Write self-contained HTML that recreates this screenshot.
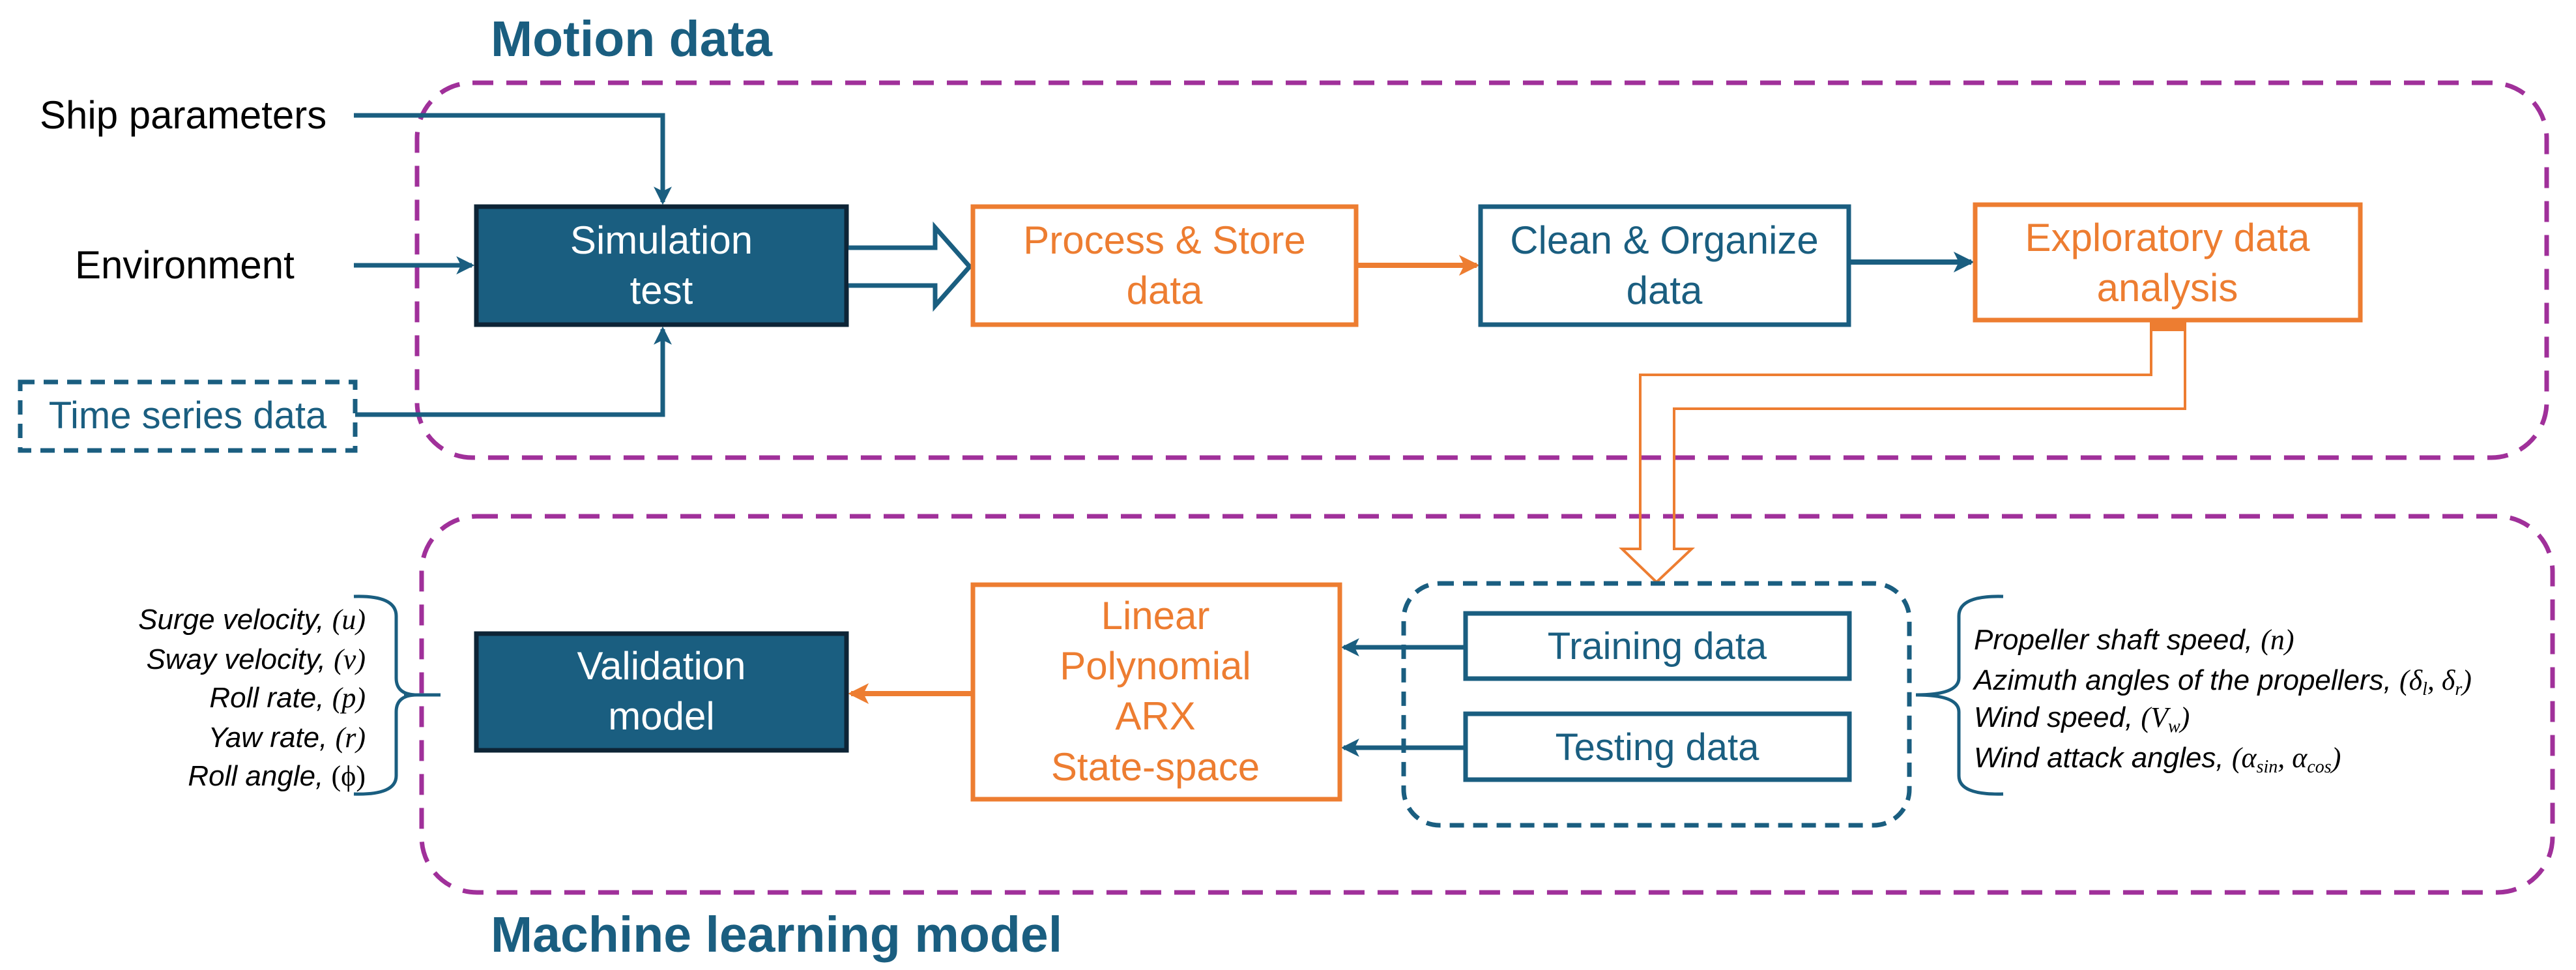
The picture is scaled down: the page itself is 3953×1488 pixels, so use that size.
<!DOCTYPE html>
<html><head><meta charset="utf-8"><style>
html,body{margin:0;padding:0;background:#fff;}
svg{display:block;}
text{font-family:"Liberation Sans",sans-serif;}
</style></head><body>
<svg width="3953" height="1488" viewBox="0 0 3953 1488" xmlns="http://www.w3.org/2000/svg">
<defs>
<marker id="ab" markerWidth="4" markerHeight="4" refX="3.4" refY="2" orient="auto" markerUnits="strokeWidth"><path d="M0,0 L4,2 L0,4 L1,2 z" fill="#1a5e80"/></marker>
<marker id="ao" markerWidth="4" markerHeight="4" refX="3.4" refY="2" orient="auto" markerUnits="strokeWidth"><path d="M0,0 L4,2 L0,4 L1,2 z" fill="#ed7d31"/></marker>
</defs>
<text x="753" y="86" font-size="77" font-weight="bold" fill="#1a5e80">Motion data</text>
<text x="753" y="1460" font-size="77" font-weight="bold" fill="#1a5e80">Machine learning model</text>
<rect x="640" y="127" width="3268" height="575" rx="85" ry="85" fill="none" stroke="#a0309a" stroke-width="7" stroke-dasharray="32,20"/>
<rect x="647" y="792" width="3270" height="577" rx="85" ry="85" fill="none" stroke="#a0309a" stroke-width="7" stroke-dasharray="32,20"/>

<text x="61" y="197" font-size="60" fill="#000">Ship parameters</text>
<text x="115" y="427" font-size="60" fill="#000">Environment</text>
<rect x="31" y="586" width="514" height="105" fill="none" stroke="#1a5e80" stroke-width="7" stroke-dasharray="22,14"/>
<text x="288" y="657" font-size="58" fill="#1a5e80" text-anchor="middle">Time series data</text>
<polyline points="543,177 1017,177 1017,310" fill="none" stroke="#1a5e80" stroke-width="7" marker-end="url(#ab)"/>
<line x1="543" y1="407" x2="724" y2="407" stroke="#1a5e80" stroke-width="7" marker-end="url(#ab)"/>
<polyline points="545,636 1017,636 1017,505" fill="none" stroke="#1a5e80" stroke-width="7" marker-end="url(#ab)"/>

<rect x="731" y="317" width="568" height="181" fill="#1a5e80" stroke="#0d2436" stroke-width="7"/>
<text x="1015" y="389" font-size="60" fill="#fff" text-anchor="middle">Simulation</text>
<text x="1015" y="466" font-size="60" fill="#fff" text-anchor="middle">test</text>
<path d="M1302,380 L1435,380 L1435,349 L1488,409 L1435,469 L1435,438 L1302,438" fill="#fff" stroke="#1a5e80" stroke-width="7"/>

<rect x="1493" y="317" width="588" height="181" fill="#fff" stroke="#ed7d31" stroke-width="7"/>
<text x="1787" y="389" font-size="60" fill="#ed7d31" text-anchor="middle">Process &amp; Store</text>
<text x="1787" y="466" font-size="60" fill="#ed7d31" text-anchor="middle">data</text>
<line x1="2084" y1="407" x2="2266" y2="407" stroke="#ed7d31" stroke-width="8" marker-end="url(#ao)"/>

<rect x="2272" y="317" width="565" height="181" fill="#fff" stroke="#1a5e80" stroke-width="7"/>
<text x="2554" y="389" font-size="60" fill="#1a5e80" text-anchor="middle">Clean &amp; Organize</text>
<text x="2554" y="466" font-size="60" fill="#1a5e80" text-anchor="middle">data</text>
<line x1="2840" y1="402" x2="3025" y2="402" stroke="#1a5e80" stroke-width="8" marker-end="url(#ab)"/>

<rect x="3031" y="314" width="591" height="177" fill="#fff" stroke="#ed7d31" stroke-width="7"/>
<text x="3326" y="385" font-size="60" fill="#ed7d31" text-anchor="middle">Exploratory data</text>
<text x="3326" y="462" font-size="60" fill="#ed7d31" text-anchor="middle">analysis</text>

<rect x="3300" y="494" width="52" height="14" fill="#ed7d31"/>
<path d="M3301,494 L3301,575 L2517,575 L2517,842 L2489,842 L2542,893 L2596,842 L2569,842 L2569,627 L3353,627 L3353,494" fill="none" stroke="#ed7d31" stroke-width="4"/>

<rect x="2154" y="895" width="776" height="371" rx="55" ry="55" fill="none" stroke="#1a5e80" stroke-width="7" stroke-dasharray="22,14"/>
<rect x="2249" y="941" width="589" height="100" fill="#fff" stroke="#1a5e80" stroke-width="7"/>
<text x="2543" y="1011" font-size="58" fill="#1a5e80" text-anchor="middle">Training data</text>
<rect x="2249" y="1095" width="589" height="101" fill="#fff" stroke="#1a5e80" stroke-width="7"/>
<text x="2543" y="1166" font-size="58" fill="#1a5e80" text-anchor="middle">Testing data</text>
<line x1="2246" y1="993" x2="2062" y2="993" stroke="#1a5e80" stroke-width="7" marker-end="url(#ab)"/>
<line x1="2246" y1="1147" x2="2062" y2="1147" stroke="#1a5e80" stroke-width="7" marker-end="url(#ab)"/>

<rect x="1493" y="897" width="563" height="329" fill="#fff" stroke="#ed7d31" stroke-width="7"/>
<text x="1773" y="965" font-size="60" fill="#ed7d31" text-anchor="middle">Linear</text>
<text x="1773" y="1042" font-size="60" fill="#ed7d31" text-anchor="middle">Polynomial</text>
<text x="1773" y="1119" font-size="60" fill="#ed7d31" text-anchor="middle">ARX</text>
<text x="1773" y="1197" font-size="60" fill="#ed7d31" text-anchor="middle">State-space</text>
<line x1="1490" y1="1064" x2="1306" y2="1064" stroke="#ed7d31" stroke-width="8" marker-end="url(#ao)"/>

<rect x="731" y="972" width="568" height="179" fill="#1a5e80" stroke="#0d2436" stroke-width="7"/>
<text x="1015" y="1042" font-size="60" fill="#fff" text-anchor="middle">Validation</text>
<text x="1015" y="1119" font-size="60" fill="#fff" text-anchor="middle">model</text>

<path d="M543,915 Q608,913 608,945 L608,1040 Q608,1066 640,1066 Q608,1066 608,1092 L608,1190 Q608,1220 543,1218" fill="none" stroke="#1a5e80" stroke-width="5"/>
<line x1="620" y1="1066" x2="676" y2="1066" stroke="#1a5e80" stroke-width="5"/>
<g font-size="44" font-style="italic" fill="#000" text-anchor="end">
<text x="561" y="965">Surge velocity, <tspan font-family="Liberation Serif, serif">(u)</tspan></text>
<text x="561" y="1026">Sway velocity, <tspan font-family="Liberation Serif, serif">(v)</tspan></text>
<text x="561" y="1085">Roll rate, <tspan font-family="Liberation Serif, serif">(p)</tspan></text>
<text x="561" y="1146">Yaw rate, <tspan font-family="Liberation Serif, serif">(r)</tspan></text>
<text x="561" y="1205">Roll angle, <tspan font-family="Liberation Serif, serif" font-style="normal">(ϕ)</tspan></text>
</g>

<path d="M3074,915 Q3006,913 3006,945 L3006,1040 Q3006,1066 2940,1066 Q3006,1066 3006,1092 L3006,1190 Q3006,1220 3074,1218" fill="none" stroke="#1a5e80" stroke-width="5"/>
<g font-size="44" font-style="italic" fill="#000">
<text x="3029" y="996">Propeller shaft speed, <tspan font-family="Liberation Serif, serif">(n)</tspan></text>
<text x="3029" y="1058">Azimuth angles of the propellers, <tspan font-family="Liberation Serif, serif">(δ<tspan font-size="28" dy="8">l</tspan><tspan dy="-8">, δ</tspan><tspan font-size="28" dy="8">r</tspan><tspan dy="-8">)</tspan></tspan></text>
<text x="3029" y="1115">Wind speed, <tspan font-family="Liberation Serif, serif">(V<tspan font-size="28" dy="8">w</tspan><tspan dy="-8">)</tspan></tspan></text>
<text x="3029" y="1177">Wind attack angles, <tspan font-family="Liberation Serif, serif">(α<tspan font-size="28" dy="8">sin</tspan><tspan dy="-8">, α</tspan><tspan font-size="28" dy="8">cos</tspan><tspan dy="-8">)</tspan></tspan></text>
</g>
</svg>
</body></html>
